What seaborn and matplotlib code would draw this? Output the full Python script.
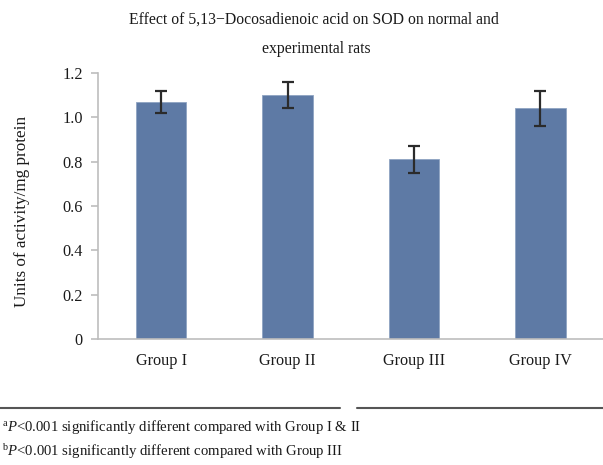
import matplotlib
matplotlib.use("Agg")
import matplotlib.pyplot as plt
from matplotlib.lines import Line2D
import seaborn as sns
import pandas as pd

# SOD activity per group (mean and SD)
groups = ["Group I", "Group II", "Group III", "Group IV"]
sod_mean = [1.07, 1.10, 0.81, 1.04]
sod_sd = [0.05, 0.06, 0.06, 0.08]
y_ticks = [0, 0.2, 0.4, 0.6, 0.8, 1.0, 1.2]
y_tick_labels = ["0", "0.2", "0.4", "0.6", "0.8", "1.0", "1.2"]

title_lines = ["Effect of 5,13\u2212Docosadienoic acid on SOD on normal and",
               "experimental rats"]
y_label = "Units of activity/mg protein"
footnotes = [r"$^{\mathrm{a}}\mathit{P}$<0.001 significantly different compared with Group I & II",
             r"$^{\mathrm{b}}\mathit{P}$<0.001 significantly different compared with Group III"]

sns.set_theme(style="white")
plt.rcParams["font.family"] = ["Liberation Serif", "DejaVu Serif"]
plt.rcParams["mathtext.fontset"] = "custom"
plt.rcParams["mathtext.rm"] = "Liberation Serif"
plt.rcParams["mathtext.it"] = "Liberation Serif:italic"

text_color = "#1a1a1a"
df = pd.DataFrame({"group": groups, "value": sod_mean})

fig = plt.figure(figsize=(6.03, 4.65), dpi=100)
ax = fig.add_axes([0.1625, 0.271, 0.8385, 0.572])

bar_color = "#5e7aa5"
sns.barplot(data=df, x="group", y="value", order=groups, color=bar_color,
            width=0.4, errorbar=None, saturation=1, ax=ax,
            edgecolor="#8ea3c2", linewidth=0.6)
ax.errorbar(range(len(groups)), sod_mean, yerr=sod_sd, fmt="none",
            ecolor="#2b2b2b", elinewidth=1.6, capsize=4, capthick=1.6, zorder=5)

ax.set_xlim(-0.5, 3.5)
ax.set_ylim(0, 1.2)
ax.set_yticks(y_ticks)
ax.set_yticklabels(y_tick_labels)
ax.set_xlabel("")
ax.set_ylabel(y_label, fontsize=12.3, color=text_color)
ax.yaxis.set_label_coords(-0.135, 0.48)

spine_color = "#bdbdbd"
for side in ["top", "right"]:
    ax.spines[side].set_visible(False)
for side in ["left", "bottom"]:
    ax.spines[side].set_color(spine_color)
    ax.spines[side].set_linewidth(1.2)

ax.tick_params(axis="y", left=True, length=5, width=1.2, color=spine_color,
               labelsize=11.7, labelcolor=text_color, pad=6)
ax.tick_params(axis="x", bottom=False, labelsize=11.7, labelcolor=text_color, pad=4)

fig.text(0.52, 0.958, title_lines[0], ha="center", va="center",
         fontsize=11.3, color=text_color)
fig.text(0.524, 0.894, title_lines[1], ha="center", va="center",
         fontsize=11.3, color=text_color)

# separator rule above the footnotes
rule_y = 1 - 408 / 465
fig.add_artist(Line2D([0.0, 0.564], [rule_y, rule_y], color="#555555", lw=1.5,
                      transform=fig.transFigure))
fig.add_artist(Line2D([0.592, 1.0], [rule_y, rule_y], color="#555555", lw=1.5,
                      transform=fig.transFigure))

fig.text(0.003, 0.082, footnotes[0], ha="left", va="center", fontsize=10.6, color=text_color)
fig.text(0.003, 0.028, footnotes[1], ha="left", va="center", fontsize=10.6, color=text_color)

fig.savefig("out.png", dpi=100, facecolor="white")
